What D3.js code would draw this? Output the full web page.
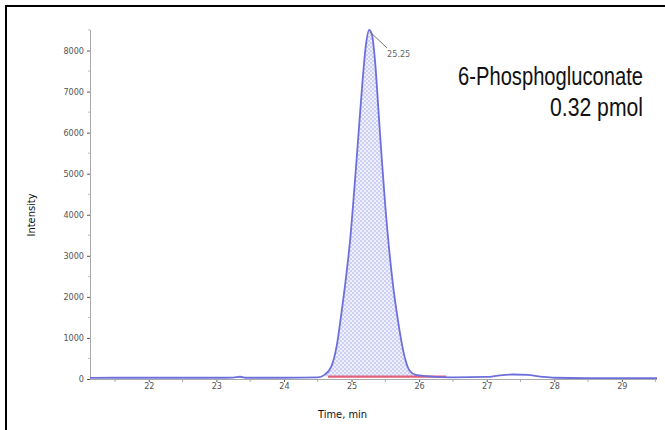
<!DOCTYPE html>
<html>
<head>
<meta charset="utf-8">
<script src="https://cdn.jsdelivr.net/npm/d3@7"></script>
<style>
  body { margin: 0; background: #fff; }
  svg { display: block; }
  .narrow { font-family: "Liberation Sans Narrow", "DejaVu Sans Condensed", "Roboto", sans-serif; }
  .squeeze { font-family: "Liberation Sans", Arial, sans-serif; }
</style>
</head>
<body>
<svg id="chart" width="665" height="430"></svg>
<script>
// chromatogram trace: [time (min), intensity]
const trace_times = [21.13, 21.5, 22, 22.5, 23, 23.25, 23.35, 23.45, 24, 24.5, 24.6, 24.7, 24.78, 24.85, 24.92, 24.98,
  25.04, 25.1, 25.16, 25.21, 25.26, 25.3, 25.35, 25.4, 25.45, 25.5, 25.56, 25.62, 25.68, 25.74, 25.8, 25.86,
  25.95, 26.1, 26.5, 27.0, 27.2, 27.4, 27.6, 27.8, 28.0, 28.5, 29.0, 29.52];
const trace_values = [25, 30, 30, 30, 30, 35, 55, 30, 30, 40, 100, 300, 800, 1600, 2500, 3400,
  4600, 5900, 7200, 8100, 8500, 8400, 7700, 6500, 5300, 4200, 3100, 2200, 1500, 900, 450, 200,
  100, 70, 40, 50, 90, 110, 100, 60, 30, 20, 20, 20];
// integrated baseline (red)
const baseline_times = [24.65, 26.4];
const baseline_values = [60, 60];
const peak_label = "25.25";
const peak_time = 25.26;
const peak_value = 8500;
const x_ticks = [22, 23, 24, 25, 26, 27, 28, 29];
const y_ticks = [0, 1000, 2000, 3000, 4000, 5000, 6000, 7000, 8000];
const title_lines = ["6-Phosphogluconate", "0.32 pmol"];

const svg = d3.select('#chart');
const x = d3.scaleLinear().domain([21.13, 29.52]).range([90, 657]);
const y = d3.scaleLinear().domain([0, 8500]).range([379, 30]);

const trace = trace_times.map((t, i) => ({ t, v: trace_values[i] }));

// fill pattern
const defs = svg.append('defs');
const pat = defs.append('pattern')
  .attr('id', 'hatch')
  .attr('width', 4).attr('height', 4)
  .attr('patternUnits', 'userSpaceOnUse');
pat.append('rect').attr('width', 4).attr('height', 4).attr('fill', '#eff0fc');
pat.append('rect').attr('width', 2).attr('height', 2).attr('fill', '#ccd0f5');
pat.append('rect').attr('x', 2).attr('y', 2).attr('width', 2).attr('height', 2).attr('fill', '#ccd0f5');

// frame (left and top)
svg.append('line').attr('x1', 6).attr('x2', 6).attr('y1', 5).attr('y2', 430)
  .attr('stroke', '#000').attr('stroke-width', 2);
svg.append('line').attr('x1', 5).attr('x2', 665).attr('y1', 6).attr('y2', 6)
  .attr('stroke', '#000').attr('stroke-width', 2);

// peak area
const peak_pts = trace.filter(d => d.t >= 24.6 && d.t <= 26.1);
svg.append('path')
  .datum(peak_pts)
  .attr('fill', 'url(#hatch)')
  .attr('d', d3.area().x(d => x(d.t)).y0(y(60)).y1(d => y(d.v)).curve(d3.curveMonotoneX));

// axes
const x_axis = d3.axisBottom(x).tickValues(x_ticks).tickSize(3).tickFormat(d3.format('d'));
const gx = svg.append('g').attr('class', 'narrow').attr('transform', `translate(0,${y(0)})`).call(x_axis);
gx.select('.domain').attr('stroke', '#aaa').attr('d', `M${x.range()[0]},0.5H${x.range()[1]}`);
gx.selectAll('.tick line').attr('stroke', '#555').attr('y1', 1).attr('y2', 3);
gx.selectAll('.tick text').attr('fill', '#555').attr('font-size', 9).attr('dy', '0.6em').attr('y', 5);

// minor x ticks
svg.append('g').selectAll('line')
  .data(x_ticks.map(d => d + 0.5).filter(d => d < 29.52).concat([21.5]))
  .enter().append('line')
  .attr('x1', d => x(d)).attr('x2', d => x(d))
  .attr('y1', y(0) + 1).attr('y2', y(0) + 3)
  .attr('stroke', '#aaa');

const y_axis = d3.axisLeft(y).tickValues(y_ticks).tickSize(3).tickFormat(d3.format('d'));
const gy = svg.append('g').attr('class', 'narrow').attr('transform', `translate(${x.range()[0]},0)`).call(y_axis);
gy.select('.domain').attr('stroke', '#aaa').attr('d', `M0.5,${y.range()[1]}V${y.range()[0] + 1}`);
gy.selectAll('.tick line').attr('stroke', '#555');
gy.selectAll('.tick text').attr('fill', '#555').attr('font-size', 9).attr('x', -6);

// minor y ticks
svg.append('g').selectAll('line')
  .data(y_ticks.map(d => d + 500))
  .enter().append('line')
  .attr('x1', x.range()[0] - 2).attr('x2', x.range()[0])
  .attr('y1', d => y(d)).attr('y2', d => y(d))
  .attr('stroke', '#bbb');

// baseline (red)
svg.append('path')
  .datum(baseline_times.map((t, i) => ({ t, v: baseline_values[i] })))
  .attr('fill', 'none')
  .attr('stroke', '#e2607a')
  .attr('stroke-width', 2.2)
  .attr('d', d3.line().x(d => x(d.t)).y(d => y(d.v)));

// trace
svg.append('path')
  .datum(trace)
  .attr('fill', 'none')
  .attr('stroke', '#6d70dc')
  .attr('stroke-width', 1.8)
  .attr('d', d3.line().x(d => x(d.t)).y(d => y(d.v)).curve(d3.curveMonotoneX));

// peak label with leader
svg.append('line')
  .attr('x1', x(peak_time) + 1).attr('y1', y(peak_value) + 2)
  .attr('x2', x(peak_time) + 18).attr('y2', y(peak_value) + 18)
  .attr('stroke', '#777').attr('stroke-width', 1);
svg.append('text').attr('class', 'narrow')
  .attr('x', x(peak_time) + 18).attr('y', y(peak_value) + 27)
  .attr('font-size', 9).attr('fill', '#666')
  .text(peak_label);

// axis titles
svg.append('text').attr('class', 'narrow')
  .attr('x', x(25.0) - 9).attr('y', 418)
  .attr('text-anchor', 'middle').attr('font-size', 11).attr('fill', '#111')
  .text('Time, min');
svg.append('text').attr('class', 'narrow')
  .attr('transform', 'translate(35,215) rotate(-90)')
  .attr('text-anchor', 'middle').attr('font-size', 11).attr('fill', '#111')
  .text('Intensity');

// compound annotation, horizontally squeezed to mimic a condensed face
const title_widths = [185, 93];
svg.append('g').attr('class', 'squeeze')
  .selectAll('text')
  .data(title_lines)
  .enter().append('text')
  .attr('text-anchor', 'end')
  .attr('font-size', 25).attr('fill', '#111')
  .text(d => d)
  .each(function (d, i) {
    const w = this.getComputedTextLength();
    const k = w > 0 ? title_widths[i] / w : 1;
    d3.select(this).attr('transform', `translate(643,${85 + i * 31}) scale(${k},1)`);
  });
</script>
</body>
</html>
